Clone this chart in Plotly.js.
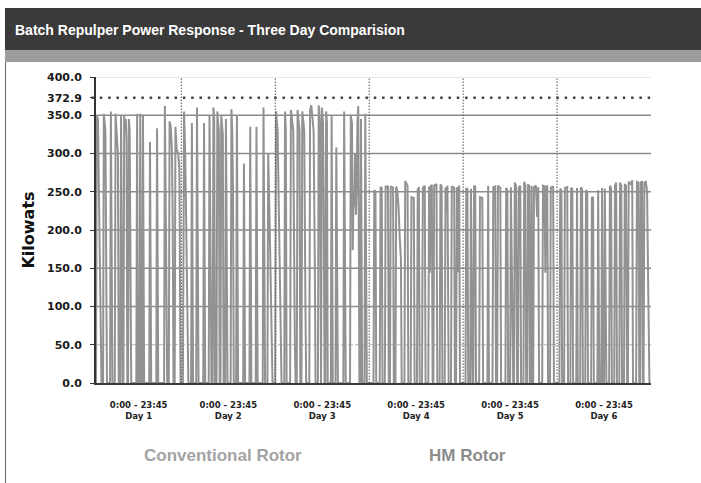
<!DOCTYPE html>
<html>
<head>
<meta charset="utf-8">
<script src="https://cdn.plot.ly/plotly-3.0.1.min.js"></script>
<style>
  html, body { margin: 0; padding: 0; background: #ffffff; }
  #chart { width: 701px; height: 483px; }
</style>
</head>
<body>
<div id="chart"></div>
<script>
// ---- Data ----
const chartTitle = "Batch Repulper Power Response - Three Day Comparision";
const dayLabels = ["Day 1", "Day 2", "Day 3", "Day 4", "Day 5", "Day 6"];
const timeSpan = "0:00 - 23:45";
const groupLabels = ["Conventional Rotor", "HM Rotor"];
const dataStartHour = 2.2;      // logging starts a little after midnight on day 1
const threshold = 372.9;        // kW reference line
const yTickVals = [0, 50, 100, 150, 200, 250, 300, 350, 400];

// Day 1 (Conventional) - hour of day, kW
const d1h = [2.2, 2.4, 2.7, 3.0, 3.3, 3.6,
  4.0, 4.2, 4.6, 5.0,
  5.8, 6.0, 6.4,
  7.0, 7.2, 7.5, 7.8, 8.0,
  8.4, 8.6, 8.8, 9.0,
  9.2, 9.4, 9.6, 9.8, 10.0, 10.2,
  10.4, 10.6, 10.8, 11.0, 11.2,
  12.5, 12.7, 12.9, 13.3, 13.5, 13.7, 14.0, 14.2, 14.5,
  15.8, 16.0, 16.3,
  17.6, 17.8, 18.1,
  19.6, 19.8, 20.2, 20.4,
  20.8, 21.0, 21.3, 21.6, 21.8, 22.0,
  22.3, 22.5, 22.8, 23.2, 23.5, 23.8, 24.0];
const d1k = [0, 350, 345, 200, 110, 0,
  0, 352, 330, 0,
  0, 355, 0,
  0, 352, 315, 300, 0,
  0, 350, 62, 0,
  0, 350, 335, 345, 320, 0,
  0, 345, 330, 196, 0,
  0, 352, 0, 0, 352, 0, 0, 350, 0,
  0, 315, 0,
  0, 333, 0,
  0, 362, 20, 0,
  0, 342, 335, 305, 216, 0,
  0, 335, 305, 300, 280, 0, 0];

// Day 2 (Conventional)
const d2h = [0, 0.4, 0.7, 1.0, 1.4, 1.8,
  2.5, 2.7, 3.0,
  3.8, 4.0, 4.4,
  5.6, 5.8, 6.1,
  7.0, 7.2, 7.5, 7.7,
  8.0, 8.2, 8.4, 8.6,
  9.0, 9.2, 9.4, 9.6, 9.8,
  10.0, 10.2, 10.4, 10.6, 10.8,
  11.2, 11.4, 11.6, 11.8,
  12.6, 12.8, 13.0, 13.2, 13.4,
  14.0, 14.2, 14.5,
  15.8, 16.0, 16.3,
  17.4, 17.6, 17.9,
  19.0, 19.2, 19.5,
  20.8, 21.0, 21.4,
  22.0, 22.2, 22.6, 23.0, 23.3, 24.0];
const d2k = [0, 0, 355, 300, 150, 0,
  0, 340, 0,
  0, 360, 0,
  0, 340, 0,
  0, 350, 125, 0,
  0, 360, 345, 0,
  0, 355, 340, 330, 0,
  0, 350, 335, 325, 0,
  0, 345, 193, 0,
  0, 358, 330, 255, 0,
  0, 350, 0,
  0, 287, 0,
  0, 335, 0,
  0, 335, 0,
  0, 360, 0,
  0, 300, 200, 100, 0, 0];

// Day 3 (Conventional)
const d3h = [0, 0.2, 0.6, 1.0, 1.3, 1.6,
  2.3, 2.5, 2.7, 2.9,
  3.8, 4.0, 4.3, 4.6, 5.0, 5.2,
  5.5, 5.7, 6.0, 6.2, 6.4,
  6.7, 6.9, 7.2, 7.4, 7.7, 7.9,
  8.7, 8.9, 9.2, 9.5, 9.8, 10.1, 10.3,
  10.9, 11.1, 11.4, 11.6,
  11.7, 11.9, 12.2, 12.4, 12.6,
  12.8, 13.0, 13.2, 13.4,
  14.2, 14.4, 14.7,
  15.4, 15.6, 16.0,
  17.4, 17.6, 18.0,
  19.1, 19.3, 19.6, 19.8, 20.0, 20.2, 20.4, 20.6, 20.8, 21.0, 21.2, 21.5,
  21.7, 21.9, 22.2,
  22.8, 23.0, 23.2, 23.4, 24.0];
const d3k = [0, 355, 330, 220, 100, 0,
  0, 355, 330, 0,
  0, 357, 340, 330, 50, 0,
  0, 357, 340, 330, 0,
  0, 355, 340, 330, 106, 0,
  0, 357, 363, 340, 330, 161, 0,
  0, 363, 340, 0,
  0, 360, 340, 215, 0,
  0, 355, 340, 0,
  0, 350, 0,
  0, 308, 0,
  0, 355, 0,
  0, 350, 340, 174, 250, 230, 300, 220, 260, 340, 362, 0,
  0, 345, 0,
  0, 352, 163, 0, 0];

// Day 4 (HM Rotor)
const d4h = [0, 1.1, 1.3, 1.6, 1.8,
  2.7, 2.9, 3.2, 3.4,
  4.0, 4.2, 4.5, 4.8, 5.0,
  5.3, 5.5, 6.1, 6.3,
  6.7, 6.9, 7.2, 7.5, 7.8, 8.1, 8.3,
  9.0, 9.2, 9.5, 9.8, 10.0,
  10.6, 10.8, 11.4, 11.6,
  12.2, 12.4, 12.7, 12.9,
  13.5, 13.7, 14.2, 14.4,
  15.1, 15.3, 15.5, 15.7, 16.0, 16.2,
  16.4, 16.6, 17.2, 17.4,
  18.0, 18.2, 18.5, 18.7,
  19.3, 19.5, 19.8, 20.0, 20.3,
  20.9, 21.1, 21.7, 21.9,
  22.2, 22.4, 22.6, 22.8, 23.0, 23.2, 24.0];
const d4k = [0, 0, 252, 250, 0,
  0, 256, 255, 0,
  0, 258, 255, 258, 0,
  0, 257, 255, 0,
  0, 257, 250, 230, 190, 163, 0,
  0, 264, 260, 258, 0,
  0, 243, 242, 0,
  0, 252, 256, 0,
  0, 255, 258, 0,
  0, 257, 144, 257, 259, 0,
  0, 258, 260, 0,
  0, 259, 258, 0,
  0, 256, 226, 258, 0,
  0, 257, 255, 0,
  0, 256, 145, 255, 258, 0, 0];

// Day 5 (HM Rotor)
const d5h = [0, 0.6, 0.8, 1.1, 1.3,
  1.8, 2.0, 2.4,
  2.6, 2.8, 3.1, 3.3,
  4.1, 4.3, 4.9, 5.1,
  6.2, 6.4, 6.6,
  7.5, 7.7, 8.2, 8.4,
  8.7, 8.9, 9.5, 9.7,
  10.8, 11.0, 11.3, 11.5,
  12.0, 12.2, 12.8,
  13.0, 13.2, 13.5, 13.8,
  14.0, 14.2, 14.6, 14.8,
  15.4, 15.6, 15.9, 16.1,
  16.4, 16.6, 16.9, 17.1,
  17.3, 17.5, 17.7,
  17.9, 18.1, 18.6, 18.9, 19.2, 19.4,
  20.2, 20.4, 20.8, 21.0, 21.2, 21.5, 21.7,
  22.2, 22.4, 23.0, 23.2, 24.0];
const d5k = [0, 0, 255, 253, 0,
  0, 254, 0,
  0, 258, 256, 0,
  0, 243, 242, 0,
  0, 258, 0,
  0, 256, 257, 0,
  0, 258, 255, 0,
  0, 255, 252, 0,
  0, 256, 0,
  0, 262, 258, 0,
  0, 255, 258, 0,
  0, 263, 258, 0,
  0, 260, 257, 0,
  0, 258, 0,
  0, 256, 258, 217, 256, 0,
  0, 258, 257, 144, 256, 258, 0,
  0, 255, 257, 0, 0];

// Day 6 (HM Rotor)
const d6h = [0, 0.6, 0.8, 1.1, 1.3,
  1.8, 2.0, 2.6, 2.8,
  3.4, 3.6, 3.9, 4.1,
  4.9, 5.1, 5.3,
  5.9, 6.1, 6.4, 6.6,
  7.2, 7.4, 7.7, 7.9,
  8.7, 8.9, 9.2, 9.4,
  10.3, 10.5, 10.8,
  11.3, 11.5, 11.7,
  12.0, 12.2, 12.6,
  13.3, 13.5, 13.8, 14.0,
  14.6, 14.8, 15.1, 15.3,
  15.9, 16.1, 16.4, 16.6,
  17.1, 17.3, 17.6, 17.9,
  18.1, 18.3, 18.6, 18.9, 19.2, 19.4,
  20.2, 20.4, 20.8, 21.0,
  21.2, 21.4, 21.7, 21.9,
  22.1, 22.3, 22.7, 23.0, 23.3, 23.6];
const d6k = [0, 0, 254, 252, 0,
  0, 255, 256, 0,
  0, 255, 254, 0,
  0, 255, 0,
  0, 256, 253, 0,
  0, 252, 250, 0,
  0, 243, 242, 0,
  0, 252, 0,
  0, 255, 0,
  0, 254, 0,
  0, 258, 255, 0,
  0, 258, 262, 0,
  0, 262, 258, 0,
  0, 260, 258, 0,
  0, 263, 262, 260, 265, 0,
  0, 263, 262, 0,
  0, 262, 264, 0,
  0, 262, 263, 250, 120, 0];

// ---- Build traces ----
const conventionalDays = [[d1h, d1k], [d2h, d2k], [d3h, d3k]];
const hmDays = [[d4h, d4k], [d5h, d5k], [d6h, d6k]];

function series(dayList, firstDayIndex) {
  const x = [], y = [];
  dayList.forEach((d, i) => {
    const offset = (firstDayIndex + i) * 24;
    d[0].forEach((h, j) => { x.push(offset + h); y.push(d[1][j]); });
  });
  return { x, y };
}
const conv = series(conventionalDays, 0);
const hm = series(hmDays, 3);

const lineStyle = { color: '#929292', width: 2 };
const traces = [
  { type: 'scatter', mode: 'lines', name: groupLabels[0], x: conv.x, y: conv.y, line: lineStyle, hoverinfo: 'skip' },
  { type: 'scatter', mode: 'lines', name: groupLabels[1], x: hm.x, y: hm.y, line: lineStyle, hoverinfo: 'skip' }
];

const nDays = dayLabels.length;
const xEnd = nDays * 24;
const dayCenters = dayLabels.map((d, i) => i === 0 ? (dataStartHour + 24) / 2 : i * 24 + 12);
const dayBounds = dayLabels.slice(1).map((d, i) => (i + 1) * 24);

const yTicksAll = yTickVals.concat([threshold]);
const gridDark = yTickVals.filter(v => v >= 100 && v <= 350);
const gridLight = [50];
const gridTop = [400];

const shapes = [];
// header bar and frame
shapes.push({ type: 'rect', xref: 'paper', yref: 'paper', x0: -0.164, x1: 1.095, y0: 1.0882, y1: 1.2255,
  fillcolor: '#3a3a3a', line: { width: 0 }, layer: 'below' });
shapes.push({ type: 'rect', xref: 'paper', yref: 'paper', x0: -0.164, x1: 1.095, y0: 1.049, y1: 1.0882,
  fillcolor: '#9c9c9c', line: { width: 0 }, layer: 'below' });
shapes.push({ type: 'line', xref: 'paper', yref: 'paper', x0: -0.163, x1: -0.163, y0: -0.33, y1: 1.049,
  line: { color: '#666', width: 1 }, layer: 'below' });
// gridlines
gridDark.forEach(v => shapes.push({ type: 'line', xref: 'paper', yref: 'y', x0: 0, x1: 1, y0: v, y1: v,
  line: { color: '#8a8a8a', width: 1.6 }, layer: 'below' }));
gridLight.forEach(v => shapes.push({ type: 'line', xref: 'paper', yref: 'y', x0: 0, x1: 1, y0: v, y1: v,
  line: { color: '#b4b4b4', width: 1.2, dash: '5px,2px' }, layer: 'below' }));
gridTop.forEach(v => shapes.push({ type: 'line', xref: 'paper', yref: 'y', x0: 0, x1: 1, y0: v, y1: v,
  line: { color: '#d2d2d2', width: 1 }, layer: 'below' }));
// day boundaries
dayBounds.forEach(v => shapes.push({ type: 'line', xref: 'x', yref: 'paper', x0: v, x1: v, y0: 0, y1: 1,
  line: { color: '#555', width: 1, dash: '1.5px,1.5px' }, layer: 'above' }));
// threshold line
shapes.push({ type: 'line', xref: 'paper', yref: 'y', x0: -0.008, x1: 1, y0: threshold, y1: threshold,
  line: { color: '#444', width: 2.5, dash: '2.5px,5.8px' }, layer: 'above' });

const layout = {
  width: 701, height: 483,
  margin: { l: 96, r: 50, t: 77, b: 100 },
  paper_bgcolor: '#ffffff', plot_bgcolor: '#ffffff',
  showlegend: false,
  title: {
    text: chartTitle, xref: 'container', yref: 'container',
    x: 15 / 701, xanchor: 'left', y: 1 - 30 / 483, yanchor: 'middle',
    font: { family: 'Liberation Sans, Arial, sans-serif', size: 14, color: '#ffffff', weight: 'bold' }
  },
  xaxis: {
    range: [dataStartHour, xEnd],
    tickmode: 'array', tickvals: dayCenters,
    ticktext: dayLabels.map(d => timeSpan + '<br>' + d),
    ticks: '', showgrid: false, zeroline: false,
    showline: true, linecolor: '#3a3a3a', linewidth: 2,
    tickfont: { family: 'DejaVu Sans, sans-serif', size: 8.5, color: '#222', weight: 'bold' },
    ticklabelstandoff: 13
  },
  yaxis: {
    range: [0, 400],
    tickmode: 'array', tickvals: yTicksAll,
    ticktext: yTicksAll.map(v => v.toFixed(1)),
    ticks: 'outside', ticklen: 4, tickcolor: '#333', tickwidth: 1,
    showgrid: false, zeroline: false,
    showline: true, linecolor: '#333', linewidth: 2,
    tickfont: { family: 'DejaVu Sans, sans-serif', size: 11, color: '#1a1a1a', weight: 'bold' },
    ticklabelstandoff: 6,
    title: { text: 'Kilowats', standoff: 8,
      font: { family: 'DejaVu Sans, sans-serif', size: 16, color: '#111', weight: 'bold' } }
  },
  shapes: shapes,
  annotations: [
    { text: groupLabels[0], xref: 'paper', yref: 'paper', x: 0.2297, y: -0.2353, xanchor: 'center', yanchor: 'middle',
      showarrow: false, font: { family: 'Liberation Sans, Arial, sans-serif', size: 17, color: '#a3a3a3', weight: 'bold' } },
    { text: groupLabels[1], xref: 'paper', yref: 'paper', x: 0.670, y: -0.2353, xanchor: 'center', yanchor: 'middle',
      showarrow: false, font: { family: 'Liberation Sans, Arial, sans-serif', size: 17, color: '#8c8c8c', weight: 'bold' } }
  ]
};

Plotly.newPlot('chart', traces, layout, { displayModeBar: false, staticPlot: true });
</script>
</body>
</html>
